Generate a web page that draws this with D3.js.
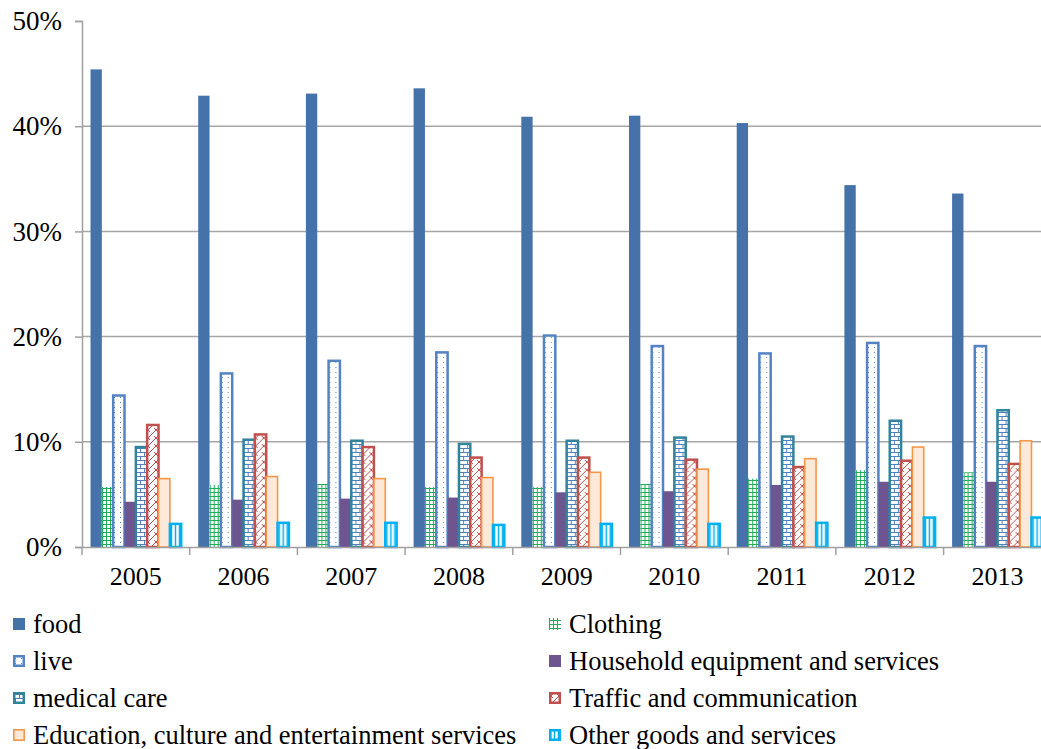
<!DOCTYPE html>
<html>
<head>
<meta charset="utf-8">
<script src="https://cdn.jsdelivr.net/npm/d3@7"></script>
<style>
  body { margin: 0; background: #fff; }
  svg, svg text { font-family: 'Liberation Serif', serif !important; }
</style>
</head>
<body>
<script>
// data
const years = ["2005", "2006", "2007", "2008", "2009", "2010", "2011", "2012", "2013"]
const seriesNames = ["food", "Clothing", "live", "Household equipment and services",
  "medical care", "Traffic and communication",
  "Education, culture and entertainment services", "Other goods and services"]
const food      = [45.4, 42.9, 43.1, 43.6, 40.9, 41.0, 40.3, 34.4, 33.6]
const clothing  = [5.7, 5.9, 6.0, 5.7, 5.7, 6.0, 6.5, 7.3, 7.1]
const live      = [14.4, 16.5, 17.7, 18.5, 20.1, 19.1, 18.4, 19.4, 19.1]
const household = [4.3, 4.5, 4.6, 4.7, 5.2, 5.3, 5.9, 6.2, 6.2]
const medical   = [9.5, 10.2, 10.1, 9.8, 10.1, 10.4, 10.5, 12.0, 13.0]
const traffic   = [11.6, 10.7, 9.5, 8.5, 8.5, 8.3, 7.6, 8.2, 7.9]
const education = [6.5, 6.7, 6.5, 6.6, 7.1, 7.4, 8.4, 9.5, 10.1]
const other     = [2.2, 2.3, 2.3, 2.1, 2.2, 2.2, 2.3, 2.8, 2.8]
const yTicks = [0, 10, 20, 30, 40, 50]

const allValues = [food, clothing, live, household, medical, traffic, education, other]

// styles per series
const styles = [
  { fill: "#4672aa", stroke: "none", sw: 0 },
  { fill: "url(#p-grid)", stroke: "none", sw: 0 },
  { fill: "url(#p-dots)", stroke: "#5383c3", sw: 2.5 },
  { fill: "#6d5590", stroke: "none", sw: 0 },
  { fill: "url(#p-brick)", stroke: "#31849b", sw: 2.5 },
  { fill: "url(#p-diag)", stroke: "#c0504d", sw: 2.5 },
  { fill: "#fde9d9", stroke: "#f79646", sw: 1.6 },
  { fill: "url(#p-vert)", stroke: "#00b0f0", sw: 2.5 },
]

const width = 1041
const height = 749
const margin = { top: 21, left: 82, bottom: 202 }
const plotBottom = height - margin.bottom
const catStep = 107.7

const svg = d3.select("body").append("svg")
  .attr("width", width)
  .attr("height", height)

// patterns
const defs = svg.append("defs")

const pGrid = defs.append("pattern").attr("id", "p-grid")
  .attr("patternUnits", "userSpaceOnUse").attr("width", 4).attr("height", 4)
pGrid.append("rect").attr("width", 4).attr("height", 4).attr("fill", "#fff")
pGrid.append("path").attr("d", "M0,0.5H4M0.5,0V4")
  .attr("stroke", "#1fae55").attr("stroke-width", 1)

const pDots = defs.append("pattern").attr("id", "p-dots")
  .attr("patternUnits", "userSpaceOnUse").attr("width", 6).attr("height", 5)
pDots.append("rect").attr("width", 6).attr("height", 5).attr("fill", "#fff")
pDots.append("rect").attr("x", 2).attr("y", 2).attr("width", 1).attr("height", 1).attr("fill", "#5383c3")

const pBrick = defs.append("pattern").attr("id", "p-brick")
  .attr("patternUnits", "userSpaceOnUse").attr("width", 8).attr("height", 8)
pBrick.append("rect").attr("width", 8).attr("height", 8).attr("fill", "#fff")
pBrick.append("path").attr("d", "M0,0.5H8M0,4.5H8M2.5,0V4M6.5,4V8")
  .attr("stroke", "#4f81bd").attr("stroke-width", 1)

const pDiag = defs.append("pattern").attr("id", "p-diag")
  .attr("patternUnits", "userSpaceOnUse").attr("width", 8).attr("height", 8)
pDiag.append("rect").attr("width", 8).attr("height", 8).attr("fill", "#fff")
pDiag.append("path").attr("d", "M0,8L8,0M-2,2L2,-2M6,10L10,6M0,4L4,8")
  .attr("stroke", "#c0504d").attr("stroke-width", 1)

const pVert = defs.append("pattern").attr("id", "p-vert")
  .attr("patternUnits", "userSpaceOnUse").attr("width", 4).attr("height", 4)
pVert.append("rect").attr("width", 4).attr("height", 4).attr("fill", "#fff")
pVert.append("path").attr("d", "M1.5,0V4")
  .attr("stroke", "#00b0f0").attr("stroke-width", 1.5)

// scales
const x0 = d3.scaleBand()
  .domain(years)
  .range([margin.left, margin.left + catStep * years.length])
  .paddingInner(0).paddingOuter(0)

const x1 = d3.scaleBand()
  .domain(d3.range(seriesNames.length))
  .range([0, x0.bandwidth()])
  .paddingInner(0).paddingOuter(0.75)

const y = d3.scaleLinear()
  .domain([0, 50])
  .range([plotBottom, margin.top])

// gridlines
svg.append("g")
  .selectAll("line")
  .data(yTicks.filter(d => d > 0 && d < 50))
  .join("line")
  .attr("x1", margin.left).attr("x2", width)
  .attr("y1", d => y(d)).attr("y2", d => y(d))
  .attr("stroke", "#a6a6a6").attr("stroke-width", 1.5)

// bars
const groups = svg.append("g")
  .selectAll("g")
  .data(years)
  .join("g")
  .attr("transform", d => `translate(${x0(d)},0)`)

groups.selectAll("rect")
  .data((yr, i) => allValues.map((vals, s) => ({ s, v: vals[i] })))
  .join("rect")
  .attr("x", d => x1(d.s))
  .attr("y", d => y(d.v))
  .attr("width", x1.bandwidth())
  .attr("height", d => plotBottom - y(d.v))
  .attr("fill", d => styles[d.s].fill)
  .attr("stroke", d => styles[d.s].stroke)
  .attr("stroke-width", d => styles[d.s].sw)

// y axis
const yAxis = svg.append("g")
  .attr("transform", `translate(${margin.left},0)`)
  .call(d3.axisLeft(y).tickValues(yTicks).tickSize(7).tickPadding(13).tickFormat(d => d + "%"))
yAxis.attr("font-size", 27)
yAxis.select(".domain").attr("stroke", "#a0a0a0").attr("stroke-width", 1.5)
yAxis.selectAll(".tick line").attr("stroke", "#a0a0a0").attr("stroke-width", 1.5)
yAxis.selectAll(".tick text").attr("fill", "#000")

// x axis
const xAxis = svg.append("g")
  .attr("transform", `translate(0,${plotBottom})`)
  .call(d3.axisBottom(x0).tickSize(0).tickPadding(20))
xAxis.attr("font-size", 26)
xAxis.select(".domain").attr("stroke", "#a0a0a0").attr("stroke-width", 1.5)
xAxis.selectAll(".tick text").attr("fill", "#000")
xAxis.append("g")
  .selectAll("line")
  .data(years.concat(["end"]))
  .join("line")
  .attr("x1", (d, i) => margin.left + i * x0.step())
  .attr("x2", (d, i) => margin.left + i * x0.step())
  .attr("y1", 0).attr("y2", 8)
  .attr("stroke", "#a0a0a0").attr("stroke-width", 1.5)

// legend
const legendCols = [13, 549]
const legendRows = [624, 661, 698, 735]
const legend = svg.append("g")
  .selectAll("g")
  .data(seriesNames)
  .join("g")
  .attr("transform", (d, i) => `translate(${legendCols[i % 2]},${legendRows[Math.floor(i / 2)]})`)

legend.append("rect")
  .attr("x", (d, i) => styles[i].sw / 2)
  .attr("y", (d, i) => -6 + styles[i].sw / 2)
  .attr("width", (d, i) => 12 - styles[i].sw)
  .attr("height", (d, i) => 12 - styles[i].sw)
  .attr("fill", (d, i) => styles[i].fill)
  .attr("stroke", (d, i) => styles[i].stroke)
  .attr("stroke-width", (d, i) => styles[i].sw)

legend.append("text")
  .attr("x", 20)
  .attr("y", 0)
  .attr("dy", "0.35em")
  .attr("fill", "#000")
  .attr("font-size", 26.5)
  .text(d => d)
</script>
</body>
</html>
